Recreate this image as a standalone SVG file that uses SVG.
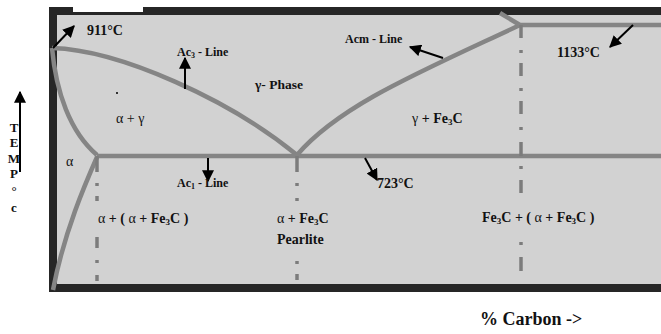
<svg xmlns="http://www.w3.org/2000/svg" width="661" height="334" viewBox="0 0 661 334">
<defs>
<marker id="ah" viewBox="0 0 10 10" refX="9" refY="5" markerWidth="6" markerHeight="6" markerUnits="strokeWidth" orient="auto">
<path d="M0,0 L10,5 L0,10 z" fill="#000"/>
</marker>
<style>
.t{font-family:"Liberation Serif","Times New Roman",serif;font-weight:bold;fill:#111;}
.n{font-family:"Liberation Serif","Times New Roman",serif;font-weight:normal;fill:#111;}
.ph{fill:none;stroke:#858585;stroke-width:4.5;stroke-linejoin:round;}
.dd{stroke:#7c7c7c;stroke-width:3.5;}
.ar{stroke:#000;stroke-width:2;fill:none;marker-end:url(#ah);}
</style>
</defs>
<rect width="661" height="334" fill="#fff"/>
<g id="frame">
<rect x="49" y="7" width="620" height="285" fill="#262626"/>
<rect x="57" y="15" width="610" height="269" fill="#d2d2d2"/>
<rect x="73" y="6" width="70" height="6" fill="#fff"/>
</g>
<g id="connectors">
<path class="ph" d="M52,48 C120,50 230,100 297,155"/>
<path class="ph" d="M52,48 C56,92 70,132 97,155"/>
<path class="ph" d="M97,157 C86,182 64,232 53,290"/>
<path class="ph" d="M97,156 L661,156"/>
<path class="ph" d="M297,155 C340,105 420,72 520,25"/>
<path class="ph" d="M500,13 L520,25 L661,25"/>
<g class="dd">
<line x1="97" y1="156" x2="97" y2="172"/><line x1="97" y1="183" x2="97" y2="186"/><line x1="97" y1="196" x2="97" y2="201"/><line x1="97" y1="237" x2="97" y2="248"/><line x1="97" y1="260" x2="97" y2="263"/><line x1="97" y1="275" x2="97" y2="281"/>
<line x1="297" y1="156" x2="297" y2="172"/><line x1="297" y1="183" x2="297" y2="186"/><line x1="297" y1="198" x2="297" y2="201"/><line x1="297" y1="261" x2="297" y2="264"/><line x1="297" y1="274" x2="297" y2="280"/>
<line x1="521" y1="25" x2="521" y2="38"/><line x1="521" y1="50" x2="521" y2="53"/><line x1="521" y1="63" x2="521" y2="76"/><line x1="521" y1="88" x2="521" y2="91"/><line x1="521" y1="101" x2="521" y2="114"/><line x1="521" y1="127" x2="521" y2="130"/><line x1="521" y1="142" x2="521" y2="156"/><line x1="521" y1="166" x2="521" y2="169"/><line x1="521" y1="180" x2="521" y2="193"/><line x1="521" y1="242" x2="521" y2="245"/><line x1="521" y1="257" x2="521" y2="271"/>
</g>
<line class="ar" x1="53" y1="48" x2="74" y2="26"/>
<line class="ar" x1="185" y1="89" x2="185" y2="58"/>
<line class="ar" x1="443" y1="58" x2="410" y2="47"/>
<line class="ar" x1="633" y1="25" x2="610" y2="47"/>
<line class="ar" x1="208" y1="158" x2="208" y2="181"/>
<line class="ar" x1="365" y1="158" x2="377" y2="180"/>
<line class="ar" x1="20" y1="172" x2="20" y2="92"/>
</g>
<g id="labels">
<text class="t" x="87" y="35" font-size="14">911°C</text>
<text class="t" x="177" y="56" font-size="12">Ac<tspan font-size="8" dy="2">3</tspan><tspan dy="-2"> - Line</tspan></text>
<text class="t" x="255" y="89" font-size="13.5">γ- Phase</text>
<text class="t" x="345" y="43" font-size="12">Acm - Line</text>
<text class="t" x="557" y="57" font-size="14">1133°C</text>
<rect x="116" y="92" width="2" height="2" fill="#333"/>
<text class="n" x="116" y="123" font-size="14">α + γ</text>
<text class="t" x="412" y="123" font-size="14"><tspan class="n">γ</tspan> + Fe<tspan font-size="9" dy="2">3</tspan><tspan dy="-2">C</tspan></text>
<text class="n" x="66" y="166" font-size="14">α</text>
<text class="t" x="177" y="187" font-size="12">Ac<tspan font-size="8" dy="2">1</tspan><tspan dy="-2"> - Line</tspan></text>
<text class="t" x="377" y="188" font-size="14">723°C</text>
<text class="t" x="98" y="223" font-size="14"><tspan class="n">α</tspan> + ( <tspan class="n">α</tspan> + Fe<tspan font-size="9" dy="2">3</tspan><tspan dy="-2">C )</tspan></text>
<text class="t" x="277" y="223" font-size="14"><tspan class="n">α</tspan> + Fe<tspan font-size="9" dy="2">3</tspan><tspan dy="-2">C</tspan></text>
<text class="t" x="277" y="244" font-size="14">Pearlite</text>
<text class="t" x="482" y="222" font-size="14">Fe<tspan font-size="9" dy="2">3</tspan><tspan dy="-2">C + ( </tspan><tspan class="n">α</tspan> + Fe<tspan font-size="9" dy="2">3</tspan><tspan dy="-2">C )</tspan></text>
<text class="t" x="480" y="325" font-size="18">% Carbon -&gt;</text>
<g class="t" font-size="13" text-anchor="middle">
<text x="14" y="132">T</text>
<text x="14" y="147">E</text>
<text x="14" y="163">M</text>
<text x="14" y="178">P</text>
<text x="14" y="195">°</text>
<text x="14" y="212">c</text>
</g>
</g>
</svg>
